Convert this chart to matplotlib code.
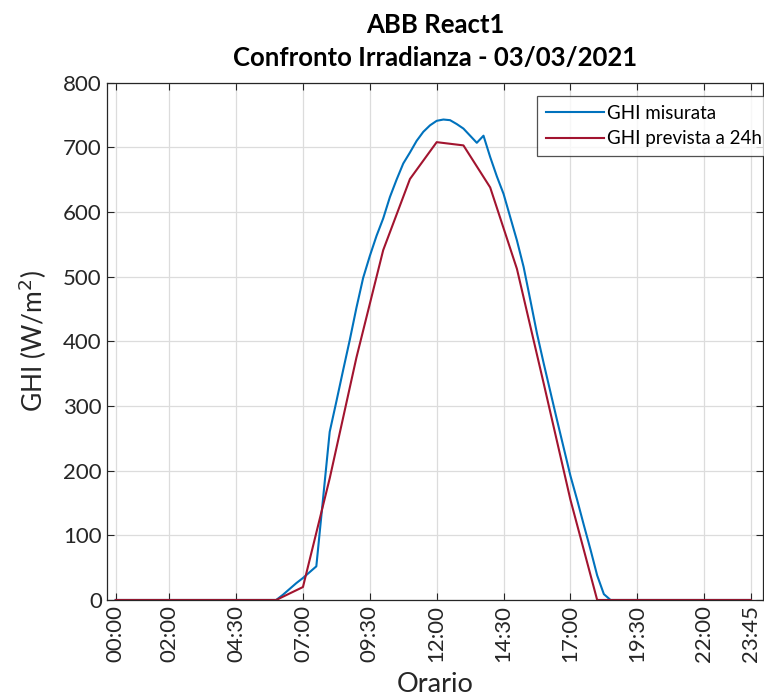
import matplotlib.pyplot as plt
import numpy as np

# GHI misurata, campioni ogni 15 minuti (00:00 - 23:45)
ghi_misurata = [0] * 24 + [
    0, 8, 17, 26, 34, 43, 52, 156, 260, 307, 355, 402, 452, 498, 532, 563,
    590, 623, 650, 675, 692, 710, 724, 734, 741, 743, 742, 736, 729, 718,
    707, 718, 685, 655, 628, 592, 556, 515, 464, 412, 366, 322, 278, 235,
    192, 155, 116, 78, 38, 9] + [0] * 22

# GHI prevista a 24h, valori orari
ore_prevista = list(range(24)) + [23.75]
ghi_prevista = [0, 0, 0, 0, 0, 0, 0, 20, 188, 375, 541, 651, 708, 703,
                638, 512, 335, 155, 0, 0, 0, 0, 0, 0, 0]

tick_ore = [0, 2, 4.5, 7, 9.5, 12, 14.5, 17, 19.5, 22, 23.75]
tick_labels = ['00:00', '02:00', '04:30', '07:00', '09:30', '12:00',
               '14:30', '17:00', '19:30', '22:00', '23:45']

plt.rcParams['font.family'] = ['Lato', 'DejaVu Sans']

fig = plt.figure(figsize=(7.64, 7.0), dpi=100)
ax = fig.add_axes([0.1397, 0.1429, 0.859, 0.739])

t = np.arange(len(ghi_misurata)) * 0.25
ax.plot(t, ghi_misurata, color='#0072BD', lw=1.5, label='GHI misurata')
ax.plot(ore_prevista, ghi_prevista, color='#A2142F', lw=1.5, label='GHI prevista a 24h')

ax.set_xlim(-0.336, 24.2)
ax.set_ylim(0, 800)
ax.set_yticks(np.arange(0, 801, 100))
ax.set_xticks(tick_ore)
ax.set_xticklabels(tick_labels, rotation=90)

ax.grid(True, color='#dcdcdc', lw=0.9)
ax.set_axisbelow(True)
ax.tick_params(direction='in', top=True, right=True, labelsize=16,
               colors='#262626', length=5)
for s in ax.spines.values():
    s.set_color('#262626')
    s.set_linewidth(0.9)

ax.set_xlabel('Orario', fontsize=19.5, color='#262626', labelpad=7)
ax.set_ylabel('GHI (W/m$^2$)', fontsize=19, color='#262626', labelpad=10)
ax.set_title('ABB React1\nConfronto Irradianza - 03/03/2021',
             fontsize=18.5, fontweight='bold', color='black', pad=12,
             linespacing=1.45)

leg = ax.legend(loc='upper right', bbox_to_anchor=(1.011, 0.9735),
                borderaxespad=0, fontsize=13.5, frameon=True, fancybox=False,
                handlelength=3.1, handletextpad=0.15,
                borderpad=0.45, labelspacing=0.45)
leg.get_frame().set_edgecolor('#262626')
leg.get_frame().set_linewidth(0.9)

fig.savefig('out.png', dpi=100)
